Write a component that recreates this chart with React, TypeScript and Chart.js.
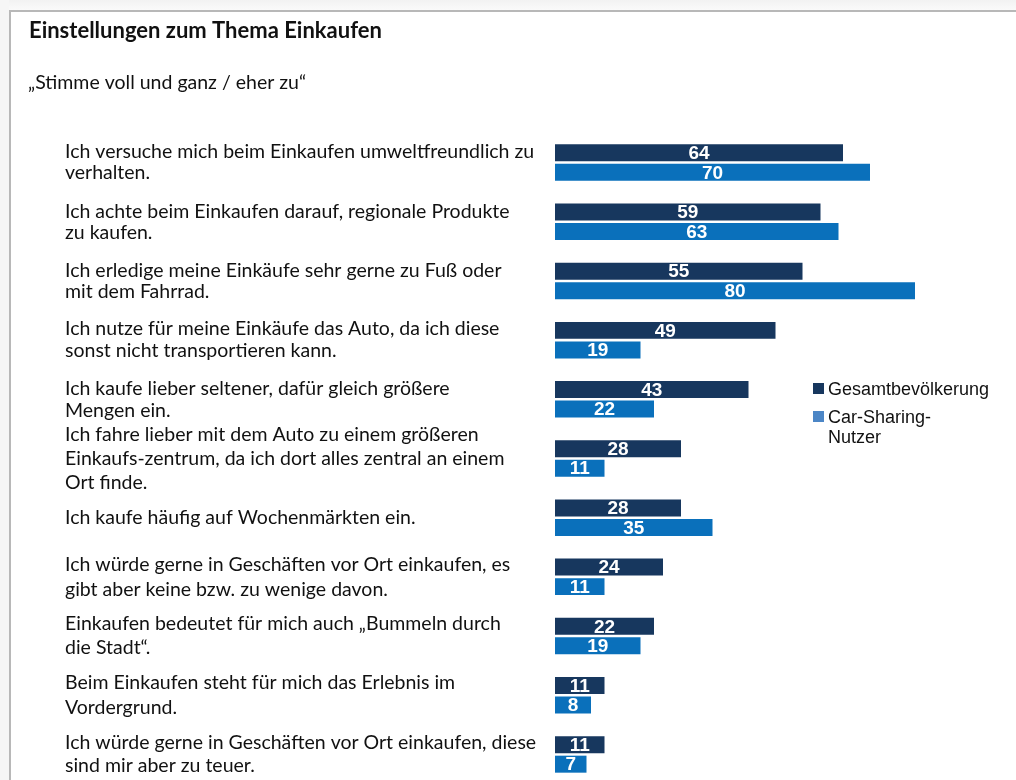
import React, { useEffect, useRef } from "react";
import { Chart, registerables } from "chart.js";

Chart.register(...registerables);

const TITLE = "Einstellungen zum Thema Einkaufen";
const SUBTITLE = "\u201EStimme voll und ganz / eher zu\u201C";

const categories: string[][] = [
  ["Ich versuche mich beim Einkaufen umweltfreundlich zu", "verhalten."],
  ["Ich achte beim Einkaufen darauf, regionale Produkte", "zu kaufen."],
  ["Ich erledige meine Einkäufe sehr gerne zu Fuß oder", "mit dem Fahrrad."],
  ["Ich nutze für meine Einkäufe das Auto, da ich diese", "sonst nicht transportieren kann."],
  ["Ich kaufe lieber seltener, dafür gleich größere", "Mengen ein."],
  ["Ich fahre lieber mit dem Auto zu einem größeren", "Einkaufs-zentrum, da ich dort alles zentral an einem", "Ort finde."],
  ["Ich kaufe häufig auf Wochenmärkten ein."],
  ["Ich würde gerne in Geschäften vor Ort einkaufen, es", "gibt aber keine bzw. zu wenige davon."],
  ["Einkaufen bedeutet für mich auch \u201EBummeln durch", "die Stadt\u201C."],
  ["Beim Einkaufen steht für mich das Erlebnis im", "Vordergrund."],
  ["Ich würde gerne in Geschäften vor Ort einkaufen, diese", "sind mir aber zu teuer."],
];

const gesamtValues = [64, 59, 55, 49, 43, 28, 28, 24, 22, 11, 11];
const carSharingValues = [70, 63, 80, 19, 22, 11, 35, 11, 19, 8, 7];

const seriesLabels = ["Gesamtbevölkerung", "Car-Sharing-Nutzer"];
const legendLines = [["Gesamtbevölkerung"], ["Car-Sharing-", "Nutzer"]];

const labelLineHeights = [21, 21, 21, 22, 22, 24, 21, 25, 24, 25, 23];

const DARK = "#17375E";
const LIGHT = "#0A70BB";
const LEGEND_LIGHT = "#4C86C6";

const W = 1016;
const H = 830;

const framePlugin = {
  id: "frame",
  beforeDraw(chart: any) {
    const ctx = chart.ctx;
    ctx.save();
    ctx.fillStyle = "#ffffff";
    ctx.fillRect(0, 0, W, H);
    const g = ctx.createLinearGradient(0, 0, 0, 10);
    g.addColorStop(0, "#f2f2f2");
    g.addColorStop(1, "#fafafa");
    ctx.fillStyle = g;
    ctx.fillRect(0, 0, W, 10);
    ctx.fillStyle = "#f6f6f6";
    ctx.fillRect(0, 0, 9, H);
    ctx.fillStyle = "#b8b8b8";
    ctx.fillRect(9, 10, W - 9, 2);
    ctx.fillRect(9, 10, 2, H);
    ctx.fillStyle = "#111111";
    ctx.textBaseline = "middle";
    ctx.textAlign = "left";
    ctx.font = "bold 22px Lato";
    ctx.fillText(TITLE, 29, 31);
    ctx.font = "19.5px Lato";
    ctx.fillText(SUBTITLE, 28, 83);
    ctx.restore();
  },
};

const valueLabelPlugin = {
  id: "valueLabels",
  afterDatasetsDraw(chart: any) {
    const ctx = chart.ctx;
    ctx.save();
    ctx.fillStyle = "#ffffff";
    ctx.font = "bold 19px 'Liberation Sans', Arial";
    ctx.textAlign = "center";
    ctx.textBaseline = "middle";
    chart.data.datasets.forEach((ds: any, di: number) => {
      const meta = chart.getDatasetMeta(di);
      meta.data.forEach((bar: any, i: number) => {
        const cx = (bar.x + bar.base) / 2;
        ctx.fillText(String(ds.data[i]), cx, bar.y + 1);
      });
    });
    ctx.restore();
  },
};

const legendPlugin = {
  id: "customLegend",
  afterDraw(chart: any) {
    const ctx = chart.ctx;
    ctx.save();
    ctx.font = "18px 'Liberation Sans', Arial";
    ctx.textAlign = "left";
    ctx.textBaseline = "middle";
    const colors = [DARK, LEGEND_LIGHT];
    const tops = [389, 417];
    legendLines.forEach((lines, i) => {
      ctx.fillStyle = colors[i];
      ctx.fillRect(813, tops[i] - 6, 11, 11);
      ctx.fillStyle = "#111111";
      lines.forEach((ln, j) => {
        ctx.fillText(ln, 828, tops[i] + 1 + j * 20);
      });
    });
    ctx.restore();
  },
};

export default function App() {
  const ref = useRef<HTMLCanvasElement | null>(null);
  useEffect(() => {
    if (!ref.current) return;
    const chart = new Chart(ref.current, {
      type: "bar",
      data: {
        labels: categories,
        datasets: [
          {
            label: seriesLabels[0],
            data: gesamtValues,
            backgroundColor: DARK,
            categoryPercentage: 0.66,
            barPercentage: 0.87,
          },
          {
            label: seriesLabels[1],
            data: carSharingValues,
            backgroundColor: LIGHT,
            categoryPercentage: 0.66,
            barPercentage: 0.87,
          },
        ],
      },
      options: {
        indexAxis: "y",
        responsive: false,
        animation: false,
        devicePixelRatio: 1,
        layout: { padding: { top: 133, bottom: H - 784, left: 65, right: 11 } },
        plugins: {
          legend: { display: false },
          tooltip: { enabled: false },
          title: { display: false },
        },
        scales: {
          x: { display: false, min: 0, max: 100 },
          y: {
            grid: { display: false },
            border: { display: false },
            afterFit(scale: any) {
              scale.width = 490;
            },
            ticks: {
              crossAlign: "far",
              color: "#111111",
              autoSkip: false,
              font: (c: any) => ({
                family: "Lato",
                size: 19.5,
                lineHeight: (labelLineHeights[c.index] || 21) + "px",
              }),
            },
          },
        },
      },
      plugins: [framePlugin, valueLabelPlugin, legendPlugin],
    } as any);
    return () => chart.destroy();
  }, []);
  return (
    <div
      style={{
        position: "fixed",
        left: 0,
        top: 0,
        width: W,
        height: 780,
        overflow: "hidden",
        background: "#fff",
      }}
    >
      <canvas ref={ref} width={W} height={H} style={{ display: "block" }} />
    </div>
  );
}
